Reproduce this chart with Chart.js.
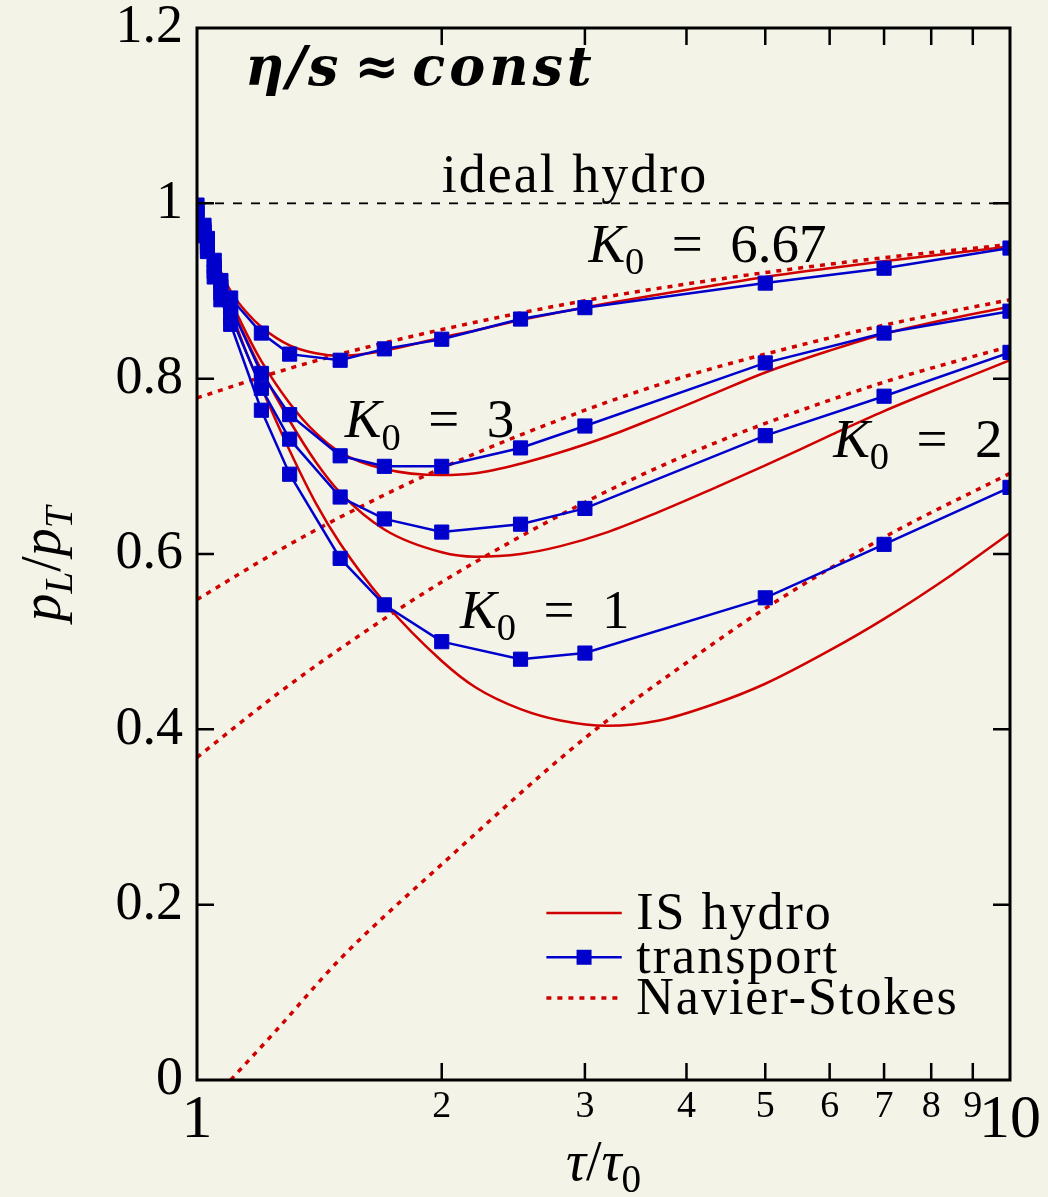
<!DOCTYPE html>
<html>
<head>
<meta charset="utf-8">
<script src="https://cdn.jsdelivr.net/npm/chart.js@4.4.0/dist/chart.umd.min.js"></script>
<style>
    html, body { margin: 0; padding: 0; background: #f3f3e7; }
    #wrap { width: 1048px; height: 1197px; position: relative; }
</style>
</head>
<body>
<div id="wrap"><canvas id="ratioChart"></canvas></div>
<script>
// transport (cascade) points
const tauTransport = [1, 1.02, 1.03, 1.05, 1.07, 1.1, 1.2, 1.3, 1.5, 1.7, 2, 2.5, 3, 5, 7, 10];
const transportK667 = [0.998, 0.975, 0.96, 0.935, 0.912, 0.892, 0.852, 0.828, 0.821, 0.834, 0.845, 0.868, 0.881, 0.909, 0.926, 0.949];
const transportK3   = [0.993, 0.970, 0.955, 0.928, 0.905, 0.882, 0.806, 0.759, 0.712, 0.700, 0.700, 0.721, 0.746, 0.818, 0.852, 0.877];
const transportK2   = [0.988, 0.967, 0.950, 0.922, 0.898, 0.872, 0.789, 0.731, 0.665, 0.640, 0.625, 0.634, 0.652, 0.735, 0.780, 0.830];
const transportK1   = [0.983, 0.963, 0.945, 0.916, 0.890, 0.862, 0.764, 0.691, 0.595, 0.542, 0.500, 0.480, 0.487, 0.550, 0.611, 0.676];

// Israel-Stewart hydro curves
const tauHydro = [1, 1.05, 1.1, 1.15, 1.2, 1.3, 1.4, 1.5, 1.7, 2, 2.2, 2.5, 2.8, 3.2, 3.7, 4.3, 5, 6, 7, 8.5, 10];
const hydroK667 = [1.0, 0.940, 0.900, 0.876, 0.859, 0.838, 0.829, 0.826, 0.832, 0.847, 0.855, 0.867, 0.876, 0.886, 0.896, 0.906, 0.916, 0.926, 0.934, 0.943, 0.951];
const hydroK3   = [1.0, 0.937, 0.890, 0.852, 0.820, 0.772, 0.738, 0.716, 0.697, 0.690, 0.692, 0.703, 0.716, 0.734, 0.757, 0.782, 0.807, 0.832, 0.851, 0.869, 0.882];
const hydroK2   = [1.0, 0.935, 0.885, 0.845, 0.810, 0.752, 0.705, 0.670, 0.628, 0.602, 0.597, 0.600, 0.609, 0.625, 0.648, 0.674, 0.701, 0.735, 0.763, 0.795, 0.821];
const hydroK1   = [1.0, 0.932, 0.878, 0.830, 0.790, 0.718, 0.658, 0.612, 0.545, 0.478, 0.448, 0.423, 0.410, 0.404, 0.410, 0.428, 0.452, 0.490, 0.526, 0.577, 0.624];

// Navier-Stokes curves
const tauNS = [1, 1.25, 1.5, 2, 3, 4, 5, 7, 10];
const nsK667 = [0.778, 0.807, 0.828, 0.856, 0.889, 0.908, 0.921, 0.938, 0.953];
const nsK3   = [0.548, 0.602, 0.642, 0.698, 0.764, 0.803, 0.828, 0.861, 0.890];
const nsK2   = [0.368, 0.439, 0.492, 0.568, 0.659, 0.713, 0.749, 0.796, 0.837];
const tauNSK1 = [1.1, 1.25, 1.5, 2, 3, 4, 5, 7, 10];
const nsK1   = [0.0, 0.056, 0.138, 0.246, 0.390, 0.476, 0.538, 0.619, 0.692];

// ideal hydro reference
const tauIdeal = [1, 10];
const idealRatio = [1, 1];

// axes
const xTickValues = [1, 2, 3, 4, 5, 6, 7, 8, 9, 10];
const xInnerTicks = [2, 3, 4, 5, 6, 7, 8, 9];
const yTickValues = [0, 0.2, 0.4, 0.6, 0.8, 1, 1.2];
const yTickLabels = ['0', '0.2', '0.4', '0.6', '0.8', '1', '1.2'];
const yInnerTicks = [0.2, 0.4, 0.6, 0.8, 1.0];

const BG = '#f3f3e7';
const RED = '#d00000';
const BLUE = '#0000cc';
const SERIF = '"Liberation Serif", "Times New Roman", serif';
const TICK = 17;
const EQ = '\u2002=\u2002';

function pts(xs, ys) {
    return xs.map((x, i) => ({ x: x, y: ys[i] }));
}

function transportSet(ys) {
    return {
        data: pts(tauTransport, ys),
        borderColor: BLUE,
        backgroundColor: BLUE,
        borderWidth: 2.5,
        pointStyle: 'rect',
        pointRadius: 10,
        pointBorderWidth: 1,
        tension: 0,
        order: 0
    };
}

function hydroSet(ys) {
    return {
        data: pts(tauHydro, ys),
        borderColor: RED,
        borderWidth: 2.5,
        pointRadius: 0,
        cubicInterpolationMode: 'monotone',
        order: 1
    };
}

function nsSet(xs, ys) {
    return {
        data: pts(xs, ys),
        borderColor: RED,
        borderWidth: 3.5,
        borderDash: [5, 6],
        pointRadius: 0,
        cubicInterpolationMode: 'monotone',
        order: 2
    };
}

function partFont(s, size, bold, family) {
    let fs = size, st = '';
    if (s === 'i' || s === 'si') st = 'italic ';
    if (s === 's' || s === 'si') fs = size * 0.7;
    return st + (bold ? 'bold ' : '') + fs + 'px ' + (family || SERIF);
}

// draw text with italic letters and subscripts, left aligned at baseline
function drawMath(ctx, parts, x, y, size, bold, family) {
    let cx = x;
    parts.forEach(([t, s]) => {
        const dy = (s === 's' || s === 'si') ? size * 0.22 : 0;
        ctx.font = partFont(s, size, bold, family);
        ctx.fillText(t, cx, y + dy);
        cx += ctx.measureText(t).width;
    });
    return cx - x;
}

function mathWidth(ctx, parts, size) {
    let total = 0;
    parts.forEach(([t, s]) => {
        ctx.font = partFont(s, size);
        total += ctx.measureText(t).width;
    });
    return total;
}

const labels = [
    { parts: [['ideal hydro', 'r']], x: 2.0, y: 1.013, size: 54, spacing: 2 },
    { parts: [['K', 'i'], ['0', 's'], [EQ + '6.67', 'r']], x: 3.03, y: 0.933, size: 55 },
    { parts: [['K', 'i'], ['0', 's'], [EQ + '3', 'r']], x: 1.52, y: 0.733, size: 55 },
    { parts: [['K', 'i'], ['0', 's'], [EQ + '2', 'r']], x: 6.06, y: 0.711, size: 55 },
    { parts: [['K', 'i'], ['0', 's'], [EQ + '1', 'r']], x: 2.106, y: 0.516, size: 55 }
];

// eta/s header pieces, placed left to right
const headerParts = [
    { text: 'η/s', x: 1.146, spacing: 2 },
    { text: '≈', x: 1.56, spacing: 0 },
    { text: 'const', x: 1.84, spacing: 4 }
];
const headerY = 1.135;

const legendItems = [
    { text: 'IS hydro', kind: 'solid', y: 0.1905 },
    { text: 'transport', kind: 'marker', y: 0.140 },
    { text: 'Navier-Stokes', kind: 'dotted', y: 0.0935 }
];

const framePlugin = {
    id: 'framePlugin',
    beforeDraw(chart) {
        const { ctx, width, height } = chart;
        ctx.save();
        ctx.fillStyle = BG;
        ctx.fillRect(0, 0, width, height);
        ctx.restore();
    },
    afterDraw(chart) {
        const { ctx, chartArea: a, scales: { x, y } } = chart;
        ctx.save();
        // inward ticks
        ctx.strokeStyle = '#000';
        ctx.lineWidth = 2.5;
        ctx.beginPath();
        xInnerTicks.forEach(v => {
            const px = x.getPixelForValue(v);
            ctx.moveTo(px, a.bottom); ctx.lineTo(px, a.bottom - TICK);
            ctx.moveTo(px, a.top); ctx.lineTo(px, a.top + TICK);
        });
        yInnerTicks.forEach(v => {
            const py = y.getPixelForValue(v);
            ctx.moveTo(a.left, py); ctx.lineTo(a.left + TICK, py);
            ctx.moveTo(a.right, py); ctx.lineTo(a.right - TICK, py);
        });
        ctx.stroke();
        // frame
        ctx.lineWidth = 3;
        ctx.strokeRect(a.left, a.top, a.right - a.left, a.bottom - a.top);

        // annotations
        ctx.fillStyle = '#000';
        ctx.textBaseline = 'alphabetic';
        ctx.textAlign = 'left';
        labels.forEach(l => {
            ctx.letterSpacing = (l.spacing || 0) + 'px';
            drawMath(ctx, l.parts, x.getPixelForValue(l.x), y.getPixelForValue(l.y), l.size, false);
        });

        ctx.font = 'bold italic 54px "DejaVu Serif", serif';
        headerParts.forEach(p => {
            ctx.letterSpacing = p.spacing + 'px';
            ctx.fillText(p.text, x.getPixelForValue(p.x), y.getPixelForValue(headerY));
        });
        ctx.letterSpacing = '0px';

        // legend
        const lx0 = x.getPixelForValue(2.69), lx1 = x.getPixelForValue(3.33), tx = x.getPixelForValue(3.47);
        legendItems.forEach(it => {
            const py = y.getPixelForValue(it.y);
            ctx.save();
            ctx.beginPath();
            ctx.moveTo(lx0, py); ctx.lineTo(lx1, py);
            if (it.kind === 'solid') { ctx.strokeStyle = RED; ctx.lineWidth = 2.5; }
            if (it.kind === 'marker') { ctx.strokeStyle = BLUE; ctx.lineWidth = 2.5; }
            if (it.kind === 'dotted') { ctx.strokeStyle = RED; ctx.lineWidth = 3.5; ctx.setLineDash([5, 6]); }
            ctx.stroke();
            if (it.kind === 'marker') {
                ctx.fillStyle = BLUE;
                ctx.fillRect((lx0 + lx1) / 2 - 7.5, py - 7.5, 15, 15);
            }
            ctx.restore();
            ctx.letterSpacing = '2px';
            ctx.font = '52px ' + SERIF;
            ctx.fillText(it.text, tx, py + 16);
            ctx.letterSpacing = '0px';
        });

        // axis titles
        const xt = [['τ', 'i'], ['/', 'r'], ['τ', 'i'], ['0', 's']];
        const xw = mathWidth(ctx, xt, 56);
        drawMath(ctx, xt, (a.left + a.right) / 2 - xw / 2, 1180, 56);

        const yt = [['p', 'i'], ['L', 'si'], ['/', 'r'], ['p', 'i'], ['T', 'si']];
        const yw = mathWidth(ctx, yt, 56);
        ctx.save();
        ctx.translate(60, (a.top + a.bottom) / 2 + 10);
        ctx.rotate(-Math.PI / 2);
        drawMath(ctx, yt, -yw / 2, 0, 56);
        ctx.restore();

        ctx.restore();
    }
};

const ctx = document.getElementById('ratioChart').getContext('2d');
new Chart(ctx, {
    type: 'line',
    data: {
        datasets: [
            transportSet(transportK667),
            transportSet(transportK3),
            transportSet(transportK2),
            transportSet(transportK1),
            hydroSet(hydroK667),
            hydroSet(hydroK3),
            hydroSet(hydroK2),
            hydroSet(hydroK1),
            nsSet(tauNS, nsK667),
            nsSet(tauNS, nsK3),
            nsSet(tauNS, nsK2),
            nsSet(tauNSK1, nsK1),
            {
                data: pts(tauIdeal, idealRatio),
                borderColor: '#000',
                borderWidth: 1.8,
                borderDash: [9, 9],
                pointRadius: 0,
                order: 3
            }
        ]
    },
    options: {
        responsive: true,
        maintainAspectRatio: false,
        animation: false,
        layout: { padding: { top: 28, right: 38, left: 0, bottom: 0 } },
        plugins: {
            legend: { display: false },
            tooltip: { enabled: false }
        },
        scales: {
            x: {
                type: 'logarithmic',
                min: 1,
                max: 10,
                grid: { display: false, drawTicks: false },
                border: { display: false },
                afterBuildTicks: s => { s.ticks = xTickValues.map(v => ({ value: v })); },
                afterFit: s => {
                    s.height = 117;
                    s.paddingLeft = 0;
                    s.paddingRight = 0;
                },
                ticks: {
                    autoSkip: false,
                    maxRotation: 0,
                    padding: 4,
                    color: '#000',
                    callback: v => String(v),
                    font: c => {
                        const v = c.tick ? c.tick.value : 0;
                        return { family: SERIF, size: (v === 1 || v === 10) ? 62 : 38 };
                    }
                }
            },
            y: {
                min: 0,
                max: 1.2,
                grid: { display: false, drawTicks: false },
                border: { display: false },
                afterBuildTicks: s => { s.ticks = yTickValues.map(v => ({ value: v })); },
                afterFit: s => {
                    s.width = 197;
                    s.paddingTop = 0;
                    s.paddingBottom = 0;
                },
                ticks: {
                    padding: 14,
                    color: '#000',
                    font: { family: SERIF, size: 54 },
                    callback: (v, i) => yTickLabels[i]
                }
            }
        }
    },
    plugins: [framePlugin]
});
</script>
</body>
</html>
